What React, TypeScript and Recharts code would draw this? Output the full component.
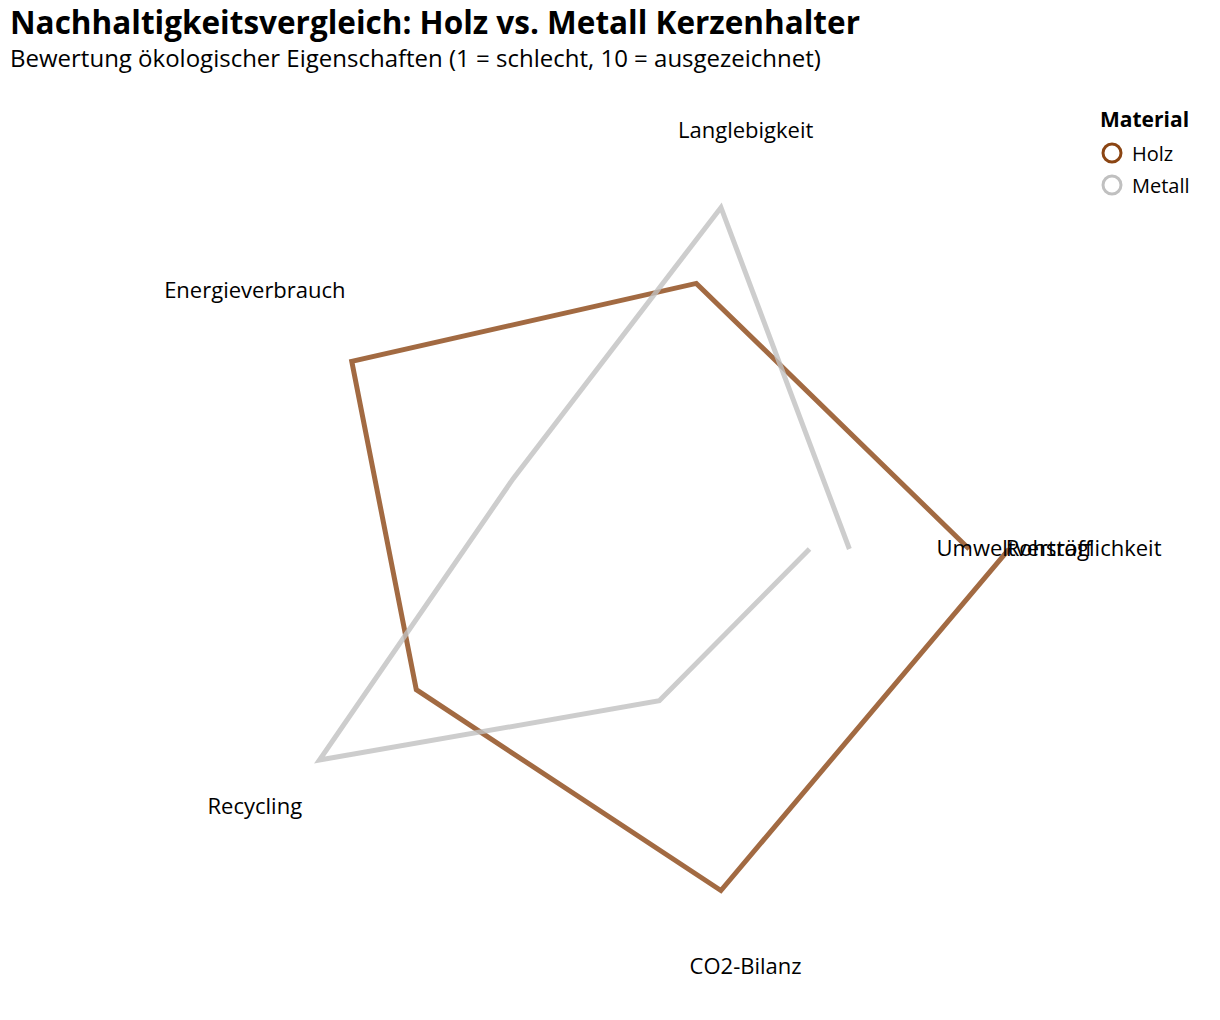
import React from 'react';
import {
  RadarChart,
  Radar,
  PolarAngleAxis,
  PolarRadiusAxis,
  Legend,
} from 'recharts';

// categories in the order they were plotted (first at 0°, last back at 360°)
const categories = [
  'Rohstoff',
  'Langlebigkeit',
  'Energieverbrauch',
  'Recycling',
  'CO2-Bilanz',
  'Umweltverträglichkeit',
];
const holzScores = [9, 7, 8, 6, 9, 10];
const metallScores = [6, 9, 3, 9, 4, 5];

const seriesNames = ['Holz', 'Metall'];
const seriesColors = ['#8B4513', '#C0C0C0'];

const step = 360 / (categories.length - 1);
const angleTicks = categories.map((_, i) => i * step);

const data = categories.map((name, i) => ({
  name,
  angle: angleTicks[i],
  Holz: holzScores[i],
  Metall: metallScores[i],
}));

const FONT = '"Open Sans", "Noto Sans", sans-serif';

const AngleTick = (props: any) => {
  const { x, y, payload } = props;
  const idx = Math.round(payload.value / step);
  return (
    <text
      x={x}
      y={y}
      dy={-2}
      textAnchor="middle"
      dominantBaseline="central"
      fontFamily={FONT}
      fontSize={22}
      fill="#000"
    >
      {categories[idx]}
    </text>
  );
};

const OpenLine = (props: any) => {
  const pts: { x: number; y: number }[] = props.points || [];
  if (!pts.length) return null;
  const d = pts.map((p, i) => `${i === 0 ? 'M' : 'L'}${p.x},${p.y}`).join(' ');
  return (
    <path
      d={d}
      fill="none"
      stroke={props.stroke}
      strokeOpacity={0.8}
      strokeWidth={5}
      strokeLinejoin="miter"
    />
  );
};

const MaterialLegend = (props: any) => {
  const payload = props.payload || [];
  return (
    <div style={{ fontFamily: FONT, color: '#000' }}>
      <div style={{ fontWeight: 700, fontSize: 21, lineHeight: '28px', marginBottom: 4 }}>
        Material
      </div>
      {payload.map((p: any) => (
        <div key={p.value} style={{ display: 'flex', alignItems: 'center', height: 32 }}>
          <svg width={24} height={24} style={{ marginRight: 8 }}>
            <circle cx={12} cy={12} r={9} fill="none" stroke={p.color} strokeWidth={3} />
          </svg>
          <span style={{ fontSize: 20 }}>{p.value}</span>
        </div>
      ))}
    </div>
  );
};

export default function App() {
  return (
    <div style={{ position: 'relative', width: 1220, height: 1020, background: '#fff' }}>
      <style>{'body{margin:0}'}</style>
      <div
        style={{
          position: 'absolute',
          left: 10,
          top: 5,
          fontFamily: FONT,
          fontWeight: 700,
          fontSize: 31.5,
          lineHeight: '34px',
          color: '#000',
          whiteSpace: 'nowrap',
        }}
      >
        Nachhaltigkeitsvergleich: Holz vs. Metall Kerzenhalter
      </div>
      <div
        style={{
          position: 'absolute',
          left: 10,
          top: 44,
          fontFamily: FONT,
          fontSize: 24,
          lineHeight: '27px',
          color: '#000',
          whiteSpace: 'nowrap',
        }}
      >
        Bewertung ökologischer Eigenschaften (1 = schlecht, 10 = ausgezeichnet)
      </div>
      <RadarChart
        width={1220}
        height={1020}
        data={data}
        cx={610}
        cy={549}
        outerRadius={399}
        startAngle={0}
        endAngle={359.99}
        margin={{ top: 0, right: 0, bottom: 0, left: 0 }}
      >
        <PolarAngleAxis
          dataKey="angle"
          type="number"
          domain={[0, 360]}
          ticks={angleTicks as any}
          tick={<AngleTick />}
          tickSize={40}
          tickLine={false}
          axisLine={false}
        />
        <PolarRadiusAxis domain={[0, 10]} tick={false} axisLine={false} />
        {seriesNames.map((s, i) => (
          <Radar
            key={s}
            name={s}
            dataKey={s}
            stroke={seriesColors[i]}
            fill="none"
            dot={false}
            isAnimationActive={false}
            shape={<OpenLine />}
          />
        ))}
        <Legend
          content={<MaterialLegend />}
          wrapperStyle={{ position: 'absolute', left: 1100, top: 105, width: 115 }}
        />
      </RadarChart>
    </div>
  );
}
